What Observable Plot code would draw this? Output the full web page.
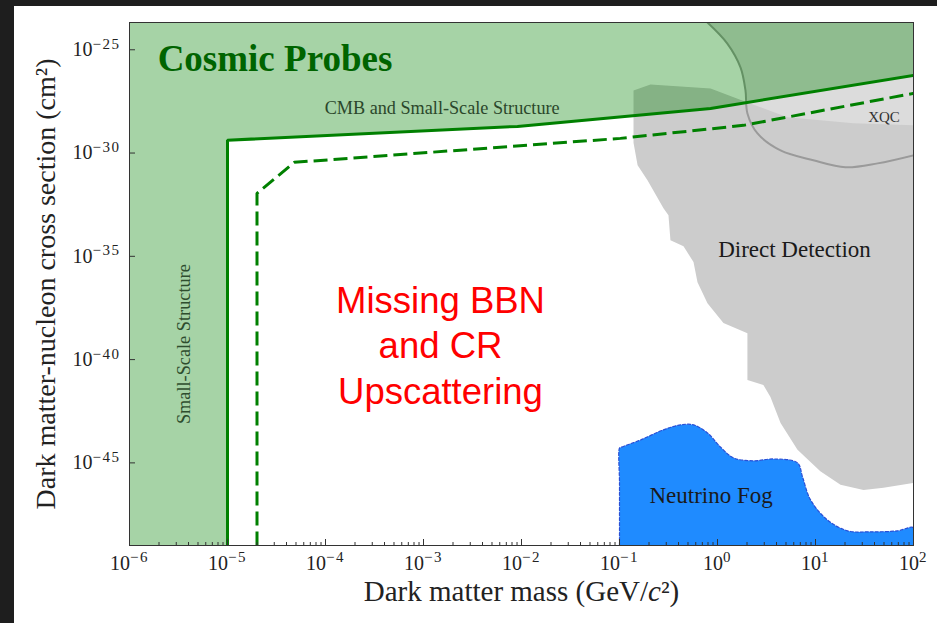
<!DOCTYPE html>
<html><head><meta charset="utf-8">
<script src="https://cdn.jsdelivr.net/npm/d3@7"></script>
<script src="https://cdn.jsdelivr.net/npm/@observablehq/plot@0.6"></script>
<style>
html,body{margin:0;padding:0;background:#1e1e1e;}
#panel{position:absolute;left:14px;top:6px;width:923px;height:617px;background:#fff;overflow:hidden;}
</style></head><body><div id="panel"></div>
<script>
// ---- axis ticks / labels ----
const xTicks = [1e-6, 1e-5, 1e-4, 1e-3, 1e-2, 1e-1, 1e0, 1e1, 1e2];
const yTicks = [1e-25, 1e-30, 1e-35, 1e-40, 1e-45];
const minorMultipliers = [2, 3, 4, 5, 6, 7, 8, 9];
const xDomain = [1e-6, 1e2];
const yDomain = [1e-49, 2.09e-24];
const xTitle = "Dark matter mass (GeV/c²)";
const yTitle = "Dark matter-nucleon cross section (cm²)";

// ---- CMB and small-scale structure bound (solid) ----
const cmbMass  = [1e-5, 1e-5, 9.1e-3, 0.85, 100];
const cmbSigma = [1e-49, 4.17e-30, 1.95e-29, 1.45e-28, 5.75e-27];

// ---- projected bound (dashed) ----
const projMass  = [2e-5, 2e-5, 4.8e-5, 0.102, 1.84, 100];
const projSigma = [1e-49, 1.12e-32, 3.55e-31, 5.13e-30, 2.19e-29, 7.76e-28];

// ---- direct detection region ----
const ddMass  = [0.139, 0.207, 0.85, 2.02, 5.18, 24.4, 100, 100, 49.4, 30.9, 18, 11.2, 6.55, 4.4, 3.47, 2.94, 2.02, 2.02, 1.15, 0.79, 0.625, 0.569, 0.45, 0.331, 0.316, 0.281, 0.193, 0.153, 0.139];
const ddSigma = [1.07e-27, 2.09e-27, 1.35e-27, 2.82e-28, 5.37e-29, 2.75e-29, 2.19e-29, 1.07e-46, 6.31e-47, 4.9e-47, 8.71e-47, 3.98e-46, 4.27e-45, 8.51e-44, 1.55e-42, 5.89e-42, 1.02e-41, 1.91e-39, 5.89e-39, 5.37e-38, 5.62e-37, 5.25e-36, 3.09e-35, 6.0e-35, 9.77e-34, 2.14e-33, 4.79e-32, 2.57e-31, 3.16e-30];

// ---- XQC outline ----
const xqcMass  = [0.79, 1.26, 1.72, 1.93, 2.02, 2.56, 4.4, 9.5, 20.2, 43, 100];
const xqcSigma = [2.09e-24, 2.0e-25, 1.38e-26, 1.07e-27, 8.3e-29, 8.9e-30, 1.35e-30, 4.47e-31, 2.04e-31, 3.16e-31, 7.76e-31];

// ---- neutrino fog ----
const fogMass  = [0.1, 0.1, 0.1, 0.103, 0.164, 0.281, 0.419, 0.569, 0.79, 1.07, 1.46, 2.33, 3.73, 6.55, 7.37, 8.9, 13.2, 21.2, 36.4, 68.7, 100, 100];
const fogSigma = [1e-49, 1e-46, 5.2e-45, 5.6e-45, 1.29e-44, 3.98e-44, 6.92e-44, 6.92e-44, 2.82e-44, 5.89e-45, 1.74e-45, 1.26e-45, 1.55e-45, 1.0e-45, 2.09e-46, 1.62e-47, 1.74e-48, 5.13e-49, 4.57e-49, 5.13e-49, 7.24e-49, 1e-49];

// ---- annotations ----
const labelText  = ["Cosmic Probes", "CMB and Small-Scale Structure", "XQC", "Direct Detection", "Neutrino Fog"];
const labelMass  = [3.05e-5, 1.55e-3, 50, 6.1, 0.86];
const labelSigma = [3.6e-26, 1.45e-28, 5.25e-29, 2.09e-35, 2.63e-47];
const sideLabel = {text: "Small-Scale Structure", m: 3.6e-6, s: 5.6e-40};
const redLabel = {text: "Missing BBN\nand CR\nUpscattering", m: 1.49e-3, s: 5.75e-40};

const pts = (ms, ss) => ms.map((m, i) => ({m, s: ss[i]}));
const cmb = pts(cmbMass, cmbSigma);
const proj = pts(projMass, projSigma);
const dd = pts(ddMass, ddSigma);
const xqc = pts(xqcMass, xqcSigma);
const fog = pts(fogMass, fogSigma);
const greenPoly = [{m: xDomain[0], s: yDomain[0]}, ...cmb, {m: xDomain[1], s: yDomain[1]}, {m: xDomain[0], s: yDomain[1]}];
const xqcPoly = [...xqc, {m: xDomain[1], s: yDomain[1]}];
const labels = labelText.map((t, i) => ({t, m: labelMass[i], s: labelSigma[i]}));
const minorX = [];
for (const d of xTicks.slice(0, -1)) for (const k of minorMultipliers) minorX.push(d * k);

const serif = "'Liberation Serif', 'Times New Roman', serif";
const innerW = 923 - 115 - 24, innerH = 617 - 16 - 78;

const plot = Plot.plot({
  width: 923, height: 617,
  marginLeft: 115, marginRight: 24, marginTop: 16, marginBottom: 78,
  x: {type: "log", domain: xDomain},
  y: {type: "log", domain: yDomain},
  style: {fontFamily: serif, fontSize: "20px", background: "transparent", color: "#222"},
  marks: [
    Plot.line(xqcPoly, {x: "m", y: "s", fill: "#dcdcdc", stroke: "none", clip: true}),
    Plot.line(dd, {x: "m", y: "s", fill: "#cccccc", stroke: "none", clip: true}),
    Plot.line(xqc, {x: "m", y: "s", stroke: "#9a9a9a", strokeWidth: 2, curve: "catmull-rom", clip: true}),
    Plot.line(fog, {x: "m", y: "s", fill: "#1f8bff", stroke: "#2a4fd6", strokeWidth: 1.2, strokeDasharray: "3,2", curve: "catmull-rom", clip: true}),
    Plot.line(greenPoly, {x: "m", y: "s", fill: "green", fillOpacity: 0.35, stroke: "none", clip: true}),
    Plot.line(cmb, {x: "m", y: "s", stroke: "green", strokeWidth: 3, strokeLinejoin: "miter", strokeLinecap: "butt", clip: true}),
    Plot.line(proj, {x: "m", y: "s", stroke: "green", strokeWidth: 3, strokeDasharray: "14,6", strokeLinejoin: "miter", strokeLinecap: "butt", clip: true}),
    Plot.text([labels[0]], {x: "m", y: "s", text: "t", fontSize: 37, fontWeight: "bold", fill: "#006400", fontFamily: serif}),
    Plot.text([labels[1]], {x: "m", y: "s", text: "t", fontSize: 18.2, fill: "#2b472b", fontFamily: serif}),
    Plot.text([labels[2]], {x: "m", y: "s", text: "t", fontSize: 15, fill: "#333", fontFamily: serif}),
    Plot.text([labels[3], labels[4]], {x: "m", y: "s", text: "t", fontSize: 23, fill: "#1a1a1a", fontFamily: serif}),
    Plot.text([sideLabel], {x: "m", y: "s", text: "text", rotate: -90, fontSize: 18.3, fill: "#2e4d2e", fontFamily: serif}),
    Plot.text([redLabel], {x: "m", y: "s", text: "text", fontSize: 36.5, lineHeight: 1.24, fill: "#ff0000", fontFamily: "'Liberation Sans', Arial, sans-serif"}),
    Plot.ruleX(xTicks, {stroke: "#333", insetTop: innerH - 6}),
    Plot.ruleX(minorX, {stroke: "#333", insetTop: innerH - 3}),
    Plot.ruleY(yTicks, {stroke: "#333", insetRight: innerW - 6}),
    Plot.axisX({ticks: xTicks, tickFormat: d => "10^" + Math.round(Math.log10(d)), tickSize: 0, tickPadding: 10, label: null}),
    Plot.axisY({ticks: yTicks, tickFormat: d => "10^" + Math.round(Math.log10(d)), tickSize: 0, tickPadding: 9, label: null}),
    Plot.text([xTitle], {frameAnchor: "bottom", lineAnchor: "middle", textAnchor: "middle", dy: 46, text: d => d, fontSize: 29, fill: "#222", fontFamily: serif}),
    Plot.text([yTitle], {frameAnchor: "left", lineAnchor: "middle", textAnchor: "middle", dx: -83, rotate: -90, text: d => d, fontSize: 28, fill: "#222", fontFamily: serif}),
    Plot.frame({stroke: "#333", strokeWidth: 1})
  ]
});

const ns = "http://www.w3.org/2000/svg";
const span = (parent, txt, attrs = {}) => {
  const t = document.createElementNS(ns, "tspan");
  t.textContent = txt;
  for (const [k, v] of Object.entries(attrs)) t.setAttribute(k, v);
  parent.appendChild(t);
  return t;
};
plot.querySelectorAll("text").forEach(t => {
  const s = t.textContent;
  const m = s.match(/^10\^(-?\d+)$/);
  if (m) {
    t.textContent = "";
    span(t, "10");
    span(t, m[1].replace("-", "\u2212"), {dy: "-0.5em", "font-size": "15px", "letter-spacing": "1.5px"});
  } else if (s === xTitle) {
    t.textContent = "";
    span(t, "Dark matter mass (GeV/");
    span(t, "c", {"font-style": "italic"});
    span(t, "²)");
  }
});
document.getElementById("panel").appendChild(plot);
</script></body></html>
